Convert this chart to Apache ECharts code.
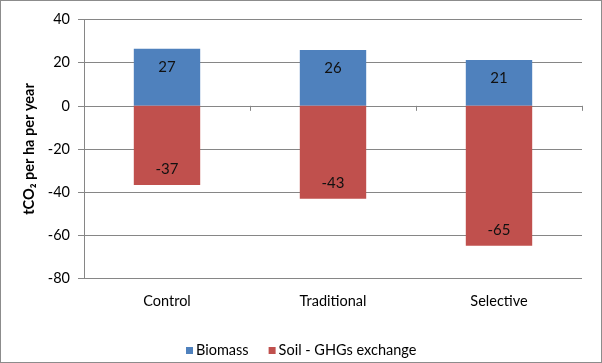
<!DOCTYPE html>
<html><head><meta charset="utf-8">
<script src="https://cdn.jsdelivr.net/npm/echarts@6/dist/echarts.min.js"></script>
<style>html,body{margin:0;padding:0;background:#fff}#c{width:602px;height:363px;box-sizing:border-box;border:1px solid #8c8c8c}</style>
</head><body><div id="c"></div>
<script>
var categories = ['Control', 'Traditional', 'Selective'];
var biomass = [26.5, 25.9, 21.2];
var soil = [-36.7, -43, -64.8];
var yTicks = {min: -80, max: 40, interval: 20};
var seriesNames = ['Biomass', 'Soil - GHGs exchange'];

var FONT = 'Lato';
var chart = echarts.init(document.getElementById('c'), null, {renderer: 'canvas'});
function lbl(p) { return String(Math.round(p.value)); }
chart.setOption({
  animation: false,
  textStyle: {fontFamily: FONT},
  grid: {left: 83, right: 19, top: 18.5, bottom: 83.5, containLabel: false},
  legend: {
    data: seriesNames, left: 180, top: 337, icon: 'rect', itemWidth: 7, itemHeight: 7, itemGap: 20,
    textStyle: {fontFamily: FONT, fontSize: 14.5, color: '#000', padding: [0, 0, 0, -2]}
  },
  xAxis: [{
    type: 'category', data: categories, boundaryGap: true,
    axisLine: {onZero: true, lineStyle: {color: '#868686'}},
    axisTick: {show: true, length: 5, lineStyle: {color: '#868686'}},
    axisLabel: {show: false}
  }, {
    type: 'category', data: categories, position: 'bottom',
    axisLine: {show: false, onZero: false}, axisTick: {show: false},
    axisLabel: {show: true, margin: 15, fontFamily: FONT, fontSize: 14.5, color: '#000'}
  }],
  yAxis: {
    type: 'value', min: yTicks.min, max: yTicks.max, interval: yTicks.interval,
    name: 'tCO\u2082 per ha per year', nameLocation: 'middle', nameRotate: 90, nameGap: 45,
    nameTextStyle: {fontFamily: FONT, fontSize: 14.5, fontWeight: 'bold', color: '#000'},
    axisLine: {show: true, lineStyle: {color: '#868686'}},
    axisTick: {show: true, length: 6, lineStyle: {color: '#868686'}},
    axisLabel: {margin: 14, fontFamily: FONT, fontSize: 14.5, color: '#000'},
    splitLine: {show: true, lineStyle: {color: '#868686'}}
  },
  series: [{
    name: seriesNames[0], type: 'bar', stack: 's', data: biomass, barWidth: '40%',
    itemStyle: {color: '#4F81BD'},
    label: {show: true, position: 'insideTop', distance: 11, formatter: lbl, fontFamily: FONT, fontSize: 15, color: '#111'}
  }, {
    name: seriesNames[1], type: 'bar', stack: 's', data: soil, barWidth: '40%',
    itemStyle: {color: '#C0504D'},
    label: {show: true, position: 'insideBottom', distance: 8, formatter: lbl, fontFamily: FONT, fontSize: 15, color: '#111'}
  }]
});
</script></body></html>
